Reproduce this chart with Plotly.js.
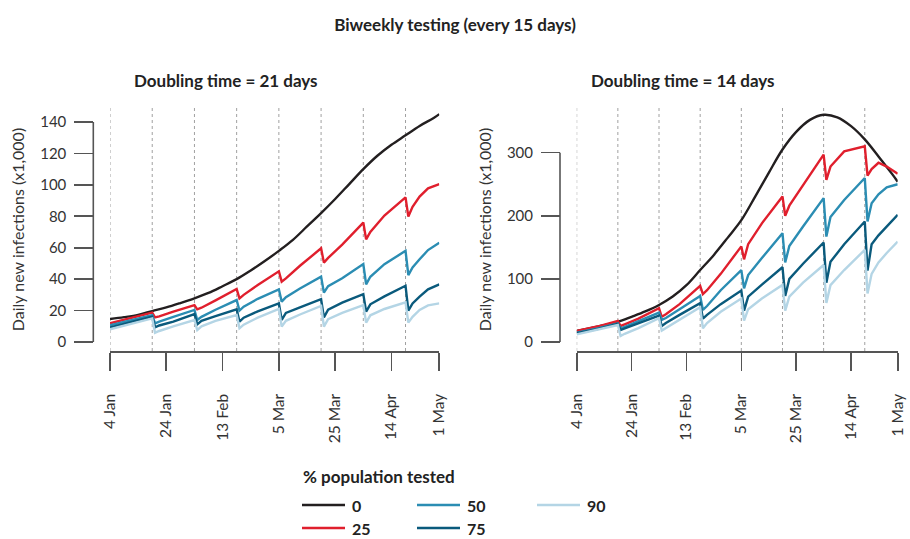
<!DOCTYPE html>
<html>
<head>
<meta charset="utf-8">
<script src="https://cdn.plot.ly/plotly-3.0.1.min.js"></script>
<style>html,body{margin:0;padding:0;background:#fff;}#chart{width:910px;height:539px;}</style>
</head>
<body>
<div id="chart"></div>
<script>
// ---- data (day offsets from 4 Jan) ----
const baseDays = [0,5,10,15,20,25,30,35,40,45,50,55,60,65,70,75,80,85,90,95,100,105,110,115,117];
const testDays = [0,7.5,15,16,17.5,22.5,30,31,32.5,37.5,45,46,47.5,52.5,60,61,62.5,67.5,75,76,77.5,82.5,90,91,92.5,97.5,105,106,107.5,110,113,117];
const testingDays = [0,15,30,45,60,75,90,105];

const seriesNames = ['0','25','50','75','90'];

// Doubling time = 21 days
const left0  = [14.6,15.8,17.3,19.7,22,24.8,27.8,31.2,35.5,40,45.5,51.5,58,65,73.5,82,91,100.5,110,118.5,125.5,131.5,137.5,142.5,145];
const left25 = [11.9,15.2,18.7,15.7,16.3,19.3,23.5,20.8,21.8,26.5,33.7,27.8,30,36.3,45,38.4,40.5,48.5,59.6,50.5,53.5,62,76,65.3,70,80.5,92,79.8,86,92.5,97.8,100.5];
const left50 = [10.6,13.8,17,11.9,13,16,20.4,14,16,20.5,26.7,20,22.5,27.5,33.5,25.7,28.5,34,41.6,31.4,35.5,40.5,49.6,36.7,41.5,49.5,58,42.6,47.5,52.6,58.5,63.2];
const left75 = [9.3,12.5,16.1,9.3,10.5,13,17.8,11.2,13.5,16.5,20.8,12.9,15.5,19.5,24.6,14,18.5,22,27.2,15.7,20.5,25,30.5,19.3,24,29,35.8,19.9,24.5,28.9,33.5,36.7];
const left90 = [8.1,11.5,15,5.9,7,10,14,7.6,10,13.5,17.2,8.7,11,15.5,21,9.8,13.5,17.5,22.9,9.8,14.5,18.5,23.5,12.3,17,21,25.3,12.3,16,20.4,23.3,24.6];

// Doubling time = 14 days
const right0  = [17.5,22,26.5,32,40,48.5,58.7,72,90,114,138,165,193,230,268,305,333,352,360,356,342,321,294,266,254];
const right25 = [17.5,24.5,33.3,25.4,28,37,53.4,40,44,60,88.9,76,82,108,151.5,131,155,188,230.7,200,216,249,296.8,257,278,302,310,263.5,274,284,278,266.7];
const right50 = [14.8,21.5,29.6,21.7,24,33.5,46.6,35,38,52,73,50.8,57,82,114,85,106,133,172.5,126,152,183,228,167,198,225,259.8,191,220,234,245,250];
const right75 = [13.8,20.5,28.6,19,21.5,30,41.8,25.4,30,43,61.4,37,43,60,81.5,49.7,72,91,118.5,73,100,124,157.7,94,127,155,191,113,155,169,183,201.6];
const right90 = [12.2,19,27,9.5,13,22,37.6,18,22,35,55,21.7,30,48,69,33.9,52,69,90.5,49.7,72,94,122,62,90,114,146,77,108,126,141,159];

const xTickVals = [0,20,40,60,80,100,117];
const xTickText = ['4 Jan','24 Jan','13 Feb','5 Mar','25 Mar','14 Apr','1 May'];
const leftYTicks = [0,20,40,60,80,100,120,140];
const rightYTicks = [0,100,200,300];

// ---- styling ----
const colors = ['#231f20','#e01f2d','#2b8db3','#0a5a7c','#b4d5e5'];
const FONT = 'Lato, "Open Sans", sans-serif';
const AX = '#555555';

const leftSets = [[baseDays,left0],[testDays,left25],[testDays,left50],[testDays,left75],[testDays,left90]];
const rightSets = [[baseDays,right0],[testDays,right25],[testDays,right50],[testDays,right75],[testDays,right90]];

const traces = [];
leftSets.forEach((s,i)=>{
  traces.push({x:s[0], y:s[1], type:'scatter', mode:'lines', name:seriesNames[i],
    xaxis:'x', yaxis:'y', showlegend:false,
    line:{color:colors[i], width:2.4, shape: i===0 ? 'spline' : 'linear'}, hoverinfo:'skip'});
});
rightSets.forEach((s,i)=>{
  traces.push({x:s[0], y:s[1], type:'scatter', mode:'lines', name:seriesNames[i],
    xaxis:'x2', yaxis:'y2', showlegend:false,
    line:{color:colors[i], width:2.4, shape: i===0 ? 'spline' : 'linear'}, hoverinfo:'skip'});
});

const W = 910, H = 539;
const px = v => v / W;
const py = v => 1 - v / H;

const yDomain = [py(351), py(108)];
const leftYPos = px(93.3), rightYPos = px(560);

function xAxis(domain, anchor){
  return {domain: domain, anchor: anchor, range:[0,117], tickmode:'array', tickvals:xTickVals, ticktext:xTickText,
    tickangle:-90, showline:true, linecolor:AX, linewidth:1.6, ticks:'outside', ticklen:18,
    tickwidth:1.6, tickcolor:AX, showgrid:false, zeroline:false, ticklabelstandoff:17,
    tickfont:{family:FONT, size:15.5, color:'#333'}, fixedrange:true};
}
function yAxis(range, ticks, pos){
  return {domain:yDomain, range:range, anchor:'free', position:pos, tickmode:'array', tickvals:ticks,
    showline:false, ticks:'outside', ticklen:19, tickwidth:1.6, tickcolor:AX, showgrid:false, zeroline:false,
    ticklabelstandoff:5, tickfont:{family:FONT, size:15, color:'#333'},
    title:{text:'Daily new infections (x1,000)', font:{family:FONT, size:16, color:'#333'}, standoff:10},
    fixedrange:true};
}

const shapes = [];
// vertical dotted lines on testing days
['x','x2'].forEach(xa=>{
  testingDays.forEach(d=>{
    shapes.push({type:'line', xref:xa, yref:(xa==='x'?'y domain':'y2 domain'), x0:d, x1:d, y0:0, y1:1,
      line:{color:'#a0a0a0', width:1, dash:'dot'}, layer:'below'});
  });
});
// y-axis lines spanning first to last tick (R-style)
shapes.push({type:'line', xref:'paper', yref:'y', x0:leftYPos, x1:leftYPos,
  y0:Math.min(...leftYTicks), y1:Math.max(...leftYTicks), line:{color:AX, width:1.6}});
shapes.push({type:'line', xref:'paper', yref:'y2', x0:rightYPos, x1:rightYPos,
  y0:Math.min(...rightYTicks), y1:Math.max(...rightYTicks), line:{color:AX, width:1.6}});

const annotations = [
  {text:'<b>Doubling time = 21 days</b>', xref:'paper', yref:'paper', x:px(226), y:py(80),
    xanchor:'center', yanchor:'middle', showarrow:false, font:{family:FONT, size:17, color:'#222'}},
  {text:'<b>Doubling time = 14 days</b>', xref:'paper', yref:'paper', x:px(683), y:py(80),
    xanchor:'center', yanchor:'middle', showarrow:false, font:{family:FONT, size:17, color:'#222'}},
  {text:'<b>% population tested</b>', xref:'paper', yref:'paper', x:px(301), y:py(476),
    xanchor:'left', yanchor:'middle', showarrow:false, font:{family:FONT, size:17, color:'#222'}}
];

// legend (3 columns, filled column by column)
const legCols = [302, 417, 537], legRows = [505, 528], legLineLen = 43;
seriesNames.forEach((nm,i)=>{
  const cx = legCols[Math.floor(i/2)], cy = legRows[i%2];
  shapes.push({type:'line', xref:'paper', yref:'paper', x0:px(cx), x1:px(cx+legLineLen), y0:py(cy), y1:py(cy),
    line:{color:colors[i], width:2.6}});
  annotations.push({text:'<b>'+nm+'</b>', xref:'paper', yref:'paper', x:px(cx+legLineLen+5), y:py(cy),
    xanchor:'left', yanchor:'middle', showarrow:false, font:{family:FONT, size:16, color:'#222'}});
});

const layout = {
  width:W, height:H, margin:{l:0,r:0,t:0,b:0}, paper_bgcolor:'#ffffff', plot_bgcolor:'rgba(0,0,0,0)',
  font:{family:FONT, color:'#333'},
  title:{text:'<b>Biweekly testing (every 15 days)</b>', font:{family:FONT, size:17, color:'#222'},
    x:0.5, xanchor:'center', xref:'paper', yref:'paper', y:py(25), yanchor:'middle'},
  xaxis: xAxis([px(110), px(439.3)], 'y'),
  yaxis: yAxis([-5.73,148.9], leftYTicks, leftYPos),
  xaxis2: xAxis([px(576.7), px(897.7)], 'y2'),
  yaxis2: yAxis([-14.26,370.8], rightYTicks, rightYPos),
  shapes: shapes,
  annotations: annotations,
  showlegend:false
};

Plotly.newPlot('chart', traces, layout, {displayModeBar:false, staticPlot:true});
</script>
</body>
</html>
